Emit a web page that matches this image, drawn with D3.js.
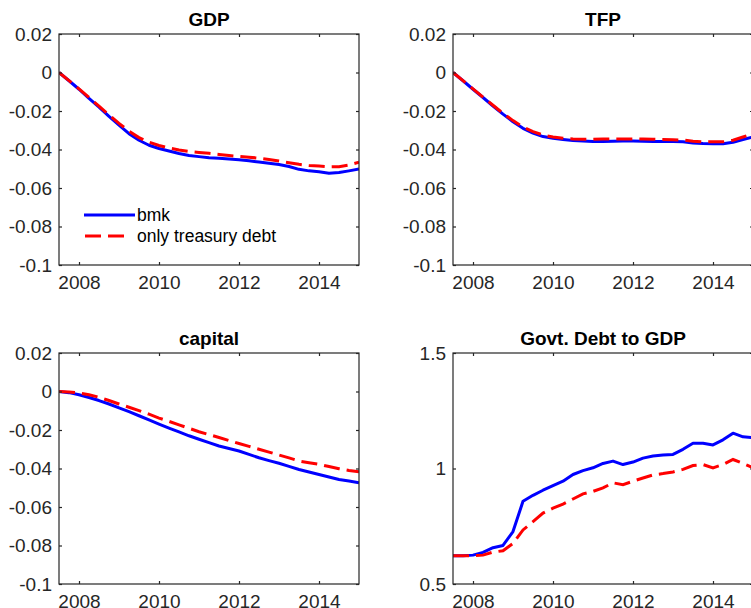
<!DOCTYPE html>
<html>
<head>
<meta charset="utf-8">
<script src="https://cdn.jsdelivr.net/npm/d3@7/dist/d3.min.js"></script>
<style>
  html, body { margin: 0; padding: 0; background: #fff; overflow: hidden; }
  svg { display: block; font-family: "Liberation Sans", Arial, Helvetica, sans-serif; }
</style>
</head>
<body>
<svg id="chart" width="751" height="608"></svg>
<script>
// Quarterly observation dates, 2007Q3 .. 2015Q1
const quarters = [2007.5, 2007.75, 2008, 2008.25, 2008.5, 2008.75, 2009, 2009.25, 2009.5, 2009.75,
  2010, 2010.25, 2010.5, 2010.75, 2011, 2011.25, 2011.5, 2011.75, 2012, 2012.25, 2012.5, 2012.75,
  2013, 2013.25, 2013.5, 2013.75, 2014, 2014.25, 2014.5, 2014.75, 2015];

const seriesNames = ["bmk", "only treasury debt"];

// GDP (log deviation)
const gdpBmk = [0, -0.0043, -0.0087, -0.0135, -0.018, -0.0228, -0.0273, -0.0318, -0.0352, -0.0378,
  -0.0395, -0.0408, -0.0421, -0.0431, -0.0437, -0.0443, -0.0446, -0.0449, -0.0453, -0.0459, -0.0465,
  -0.0471, -0.0478, -0.0488, -0.0503, -0.0511, -0.0516, -0.0523, -0.052, -0.0511, -0.0501];
const gdpTreasury = [0, -0.0042, -0.0085, -0.013, -0.0175, -0.022, -0.0264, -0.0305, -0.0338, -0.0362,
  -0.0379, -0.0392, -0.0403, -0.041, -0.0415, -0.042, -0.0426, -0.0431, -0.0436, -0.044, -0.0445,
  -0.0452, -0.046, -0.0469, -0.0477, -0.0483, -0.0486, -0.049, -0.0489, -0.048, -0.0466];

// TFP
const tfpBmk = [0, -0.0043, -0.0087, -0.013, -0.0174, -0.0216, -0.0256, -0.029, -0.0315, -0.0333,
  -0.0342, -0.0348, -0.0353, -0.0356, -0.0358, -0.0358, -0.0357, -0.0356, -0.0356, -0.0357, -0.0358,
  -0.0358, -0.0358, -0.036, -0.0366, -0.0369, -0.037, -0.037, -0.0362, -0.0348, -0.0335];
const tfpTreasury = [0, -0.0042, -0.0085, -0.0128, -0.017, -0.0212, -0.025, -0.0283, -0.0307, -0.0325,
  -0.0335, -0.0341, -0.0345, -0.0347, -0.0347, -0.0346, -0.0345, -0.0345, -0.0345, -0.0346, -0.0347,
  -0.0348, -0.0349, -0.0351, -0.0357, -0.036, -0.036, -0.036, -0.0352, -0.0335, -0.0318];

// Capital
const capitalBmk = [0, -0.0006, -0.0017, -0.0031, -0.0047, -0.0065, -0.0085, -0.0105, -0.0126, -0.0148,
  -0.0169, -0.019, -0.021, -0.023, -0.0248, -0.0266, -0.0283, -0.0296, -0.0309, -0.0327, -0.0344,
  -0.0359, -0.0373, -0.0389, -0.0405, -0.0418, -0.0431, -0.0444, -0.0457, -0.0465, -0.0474];
const capitalTreasury = [0, -0.0002, -0.0007, -0.0017, -0.003, -0.0047, -0.0065, -0.0082, -0.0099, -0.0118,
  -0.0138, -0.0155, -0.0173, -0.0191, -0.0209, -0.0224, -0.0239, -0.0255, -0.027, -0.0285, -0.03,
  -0.0315, -0.033, -0.0345, -0.0361, -0.037, -0.0378, -0.039, -0.0401, -0.041, -0.0417];

// Government debt to GDP
const debtBmk = [0.622, 0.622, 0.625, 0.637, 0.657, 0.667, 0.727, 0.858, 0.884, 0.906,
  0.926, 0.945, 0.974, 0.991, 1.003, 1.022, 1.032, 1.017, 1.028, 1.045, 1.054,
  1.058, 1.061, 1.083, 1.109, 1.109, 1.102, 1.124, 1.153, 1.137, 1.134];
const debtTreasury = [0.622, 0.622, 0.622, 0.625, 0.638, 0.644, 0.676, 0.734, 0.77, 0.807,
  0.828, 0.846, 0.868, 0.89, 0.901, 0.916, 0.938, 0.93, 0.945, 0.959, 0.972,
  0.978, 0.985, 0.996, 1.013, 1.017, 1.003, 1.017, 1.039, 1.022, 1.003];

// Axis ticks
const xTicks = [2008, 2010, 2012, 2014];
const xTickLabels = ["2008", "2010", "2012", "2014"];
const devTicks = [0.02, 0, -0.02, -0.04, -0.06, -0.08, -0.1];
const devTickLabels = ["0.02", "0", "-0.02", "-0.04", "-0.06", "-0.08", "-0.1"];
const debtTicks = [1.5, 1, 0.5];
const debtTickLabels = ["1.5", "1", "0.5"];

const panelTitles = ["GDP", "TFP", "capital", "Govt. Debt to GDP"];

const panels = [
  { title: panelTitles[0], bmk: gdpBmk, alt: gdpTreasury, yDomain: [-0.1, 0.02], ticks: devTicks, labels: devTickLabels, left: 59, top: 34, legend: true },
  { title: panelTitles[1], bmk: tfpBmk, alt: tfpTreasury, yDomain: [-0.1, 0.02], ticks: devTicks, labels: devTickLabels, left: 453, top: 34 },
  { title: panelTitles[2], bmk: capitalBmk, alt: capitalTreasury, yDomain: [-0.1, 0.02], ticks: devTicks, labels: devTickLabels, left: 59, top: 353 },
  { title: panelTitles[3], bmk: debtBmk, alt: debtTreasury, yDomain: [0.5, 1.5], ticks: debtTicks, labels: debtTickLabels, left: 453, top: 353 }
];

const W = 300, H = 231;
const axisColor = "#262626";
const blue = "#0000ff", red = "#ff0000";
const dash = "16,7";

const svg = d3.select("#chart");
svg.append("rect").attr("width", 751).attr("height", 608).attr("fill", "#fff");

panels.forEach((p, i) => {
  const g = svg.append("g").attr("transform", `translate(${p.left},${p.top})`);
  const x = d3.scaleLinear().domain([2007.5, 2015]).range([0, W]);
  const y = d3.scaleLinear().domain(p.yDomain).range([H, 0]);

  const clipId = "clip" + i;
  g.append("clipPath").attr("id", clipId)
    .append("rect").attr("x", 0).attr("y", 0).attr("width", W).attr("height", H);

  const line = d3.line().x((d, k) => x(quarters[k])).y(d => y(d));

  const plot = g.append("g").attr("clip-path", `url(#${clipId})`);
  plot.append("path").datum(p.bmk).attr("d", line)
    .attr("fill", "none").attr("stroke", blue).attr("stroke-width", 3)
    .attr("stroke-linejoin", "round");
  plot.append("path").datum(p.alt).attr("d", line)
    .attr("fill", "none").attr("stroke", red).attr("stroke-width", 3)
    .attr("stroke-dasharray", dash);

  // box outline
  g.append("rect").attr("x", 0).attr("y", 0).attr("width", W).attr("height", H)
    .attr("fill", "none").attr("stroke", axisColor).attr("stroke-width", 1.2);

  const styleAxis = sel => {
    sel.select(".domain").remove();
    sel.selectAll("line").attr("stroke", axisColor).attr("stroke-width", 1.2);
    sel.selectAll("text").attr("fill", axisColor).style("font-size", "19px")
      .style("font-family", '"Liberation Sans", Arial, Helvetica, sans-serif');
  };

  g.append("g").attr("transform", `translate(0,${H})`)
    .call(d3.axisBottom(x).tickValues(xTicks).tickSize(-3).tickPadding(10.5)
      .tickFormat((d, k) => xTickLabels[k]))
    .call(styleAxis);
  g.append("g")
    .call(d3.axisTop(x).tickValues(xTicks).tickSize(-3).tickFormat(""))
    .call(styleAxis);
  g.append("g")
    .call(d3.axisLeft(y).tickValues(p.ticks).tickSize(-3).tickPadding(7)
      .tickFormat((d, k) => p.labels[k]))
    .call(styleAxis);
  g.append("g").attr("transform", `translate(${W},0)`)
    .call(d3.axisRight(y).tickValues(p.ticks).tickSize(-3).tickFormat(""))
    .call(styleAxis);

  g.append("text").attr("x", W / 2).attr("y", -8)
    .attr("text-anchor", "middle").attr("fill", "#000")
    .style("font-size", "19px").style("font-weight", "bold")
    .text(p.title);

  if (p.legend) {
    const lg = g.append("g").attr("transform", "translate(25,181)");
    [blue, red].forEach((c, k) => {
      const row = lg.append("g").attr("transform", `translate(0,${k * 21})`);
      row.append("line").attr("x1", k === 1 ? 1 : 0).attr("x2", 51).attr("y1", 0).attr("y2", 0)
        .attr("stroke", c).attr("stroke-width", 3)
        .attr("stroke-dasharray", k === 1 ? "16,7,16,20" : null);
      row.append("text").attr("x", 53).attr("y", 0).attr("dy", "0.35em")
        .attr("fill", "#000").style("font-size", "17.5px").text(seriesNames[k]);
    });
  }
});
</script>
</body>
</html>
